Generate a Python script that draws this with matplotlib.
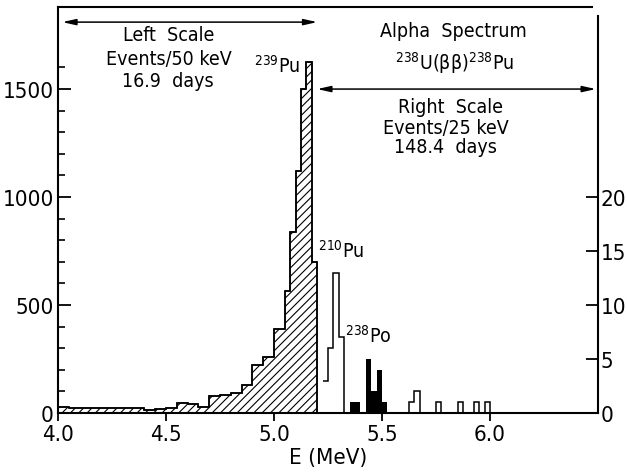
import matplotlib
matplotlib.use("Agg")
import matplotlib.pyplot as plt
from matplotlib.ticker import FixedLocator
from matplotlib import font_manager as fm

# ---------------- data ----------------
# left scale: events / 50 keV (hatched), bin edges in MeV
left_edges = [4.00, 4.05, 4.10, 4.15, 4.20, 4.25, 4.30, 4.35, 4.40, 4.45,
              4.50, 4.55, 4.60, 4.65, 4.70, 4.75, 4.80, 4.85, 4.90, 4.95,
              5.00, 5.05, 5.075, 5.10, 5.125, 5.15, 5.175, 5.20]
left_counts = [28, 22, 24, 24, 25, 25, 24, 22, 14, 18,
               22, 45, 40, 30, 78, 82, 92, 130, 220, 260,
               390, 565, 838, 1120, 1500, 1625, 700]

# right scale: events / 25 keV
po210_edges = [5.225, 5.25, 5.275, 5.30, 5.325, 5.35]
po210_counts = [3, 6, 13, 7, 0]

pu238_edges = [5.35, 5.375, 5.40, 5.425, 5.45, 5.475, 5.50, 5.525]
pu238_counts = [1, 1, 0, 5, 2, 4, 1]

high_edges = [5.625, 5.65, 5.675, 5.70, 5.725, 5.75, 5.775, 5.80, 5.825,
              5.85, 5.875, 5.90, 5.925, 5.95, 5.975, 6.00]
high_counts = [1, 2, 0, 0, 0, 1, 0, 0, 0, 1, 0, 0, 1, 0, 1]

x_ticks = [4.0, 4.5, 5.0, 5.5, 6.0]
x_ticklabels = ["4.0", "4.5", "5.0", "5.5", "6.0"]
left_ticks = [0, 500, 1000, 1500]
left_minor = [100, 200, 300, 400, 600, 700, 800, 900, 1100, 1200, 1300, 1400, 1600]
right_ticks = [0, 5, 10, 15, 20]

# ---------------- font choice (narrow lettering) ----------------
def _find(family, stretch):
    try:
        return fm.findfont(fm.FontProperties(family=family, stretch=stretch),
                           fallback_to_default=False)
    except Exception:
        return None

FAMILY, STRETCH, CONDENSED = "Liberation Sans", "normal", False
p = _find("Liberation Sans Narrow", "normal")
if p and "Narrow" in p:
    FAMILY, STRETCH, CONDENSED = "Liberation Sans Narrow", "normal", True
else:
    p = _find("DejaVu Sans", "condensed")
    if p and "Condensed" in p:
        FAMILY, STRETCH, CONDENSED = "DejaVu Sans", "condensed", True

plt.rcParams["font.family"] = [FAMILY, "DejaVu Sans"]
plt.rcParams["font.stretch"] = STRETCH
plt.rcParams["mathtext.fontset"] = "custom"
plt.rcParams["mathtext.rm"] = FAMILY
plt.rcParams["mathtext.it"] = FAMILY + ":italic"
plt.rcParams["mathtext.default"] = "regular"
plt.rcParams["hatch.linewidth"] = 0.8

TICK_FS = 16 if CONDENSED else 14.5
FS = 14 if CONDENSED else 13

W, H = 627, 477
fig = plt.figure(figsize=(W / 100, H / 100), dpi=100)
ax = fig.add_axes([58 / W, 1 - 414 / H, (598 - 58) / W, (414 - 8) / H])
ax2 = ax.twinx()

LMAX = 1880
RMAX = LMAX / 50
ax.set_xlim(4.0, 6.5)
ax.set_ylim(0, LMAX)
ax2.set_ylim(0, RMAX)

lw = 1.1
ax.stairs(left_counts, left_edges, fill=True, facecolor="white",
          edgecolor="black", hatch="////", linewidth=lw)
ax.stairs(left_counts, left_edges, fill=False, color="black", linewidth=lw,
          baseline=0)

ax2.stairs(po210_counts, po210_edges, baseline=None, color="black", linewidth=lw)
ax2.stairs(pu238_counts, pu238_edges, fill=True, color="black", linewidth=lw)
ax2.stairs(high_counts, high_edges, fill=False, color="black", linewidth=lw,
           baseline=0)

# axes frame: top line stops short of the right scale, right spine starts lower
for a in (ax, ax2):
    for s in a.spines.values():
        s.set_linewidth(1.5)
ax.spines["right"].set_visible(False)
ax2.spines["top"].set_visible(False)
ax2.spines["left"].set_visible(False)
ax2.spines["bottom"].set_visible(False)
ax.spines["top"].set_bounds(4.0, 6.47)
ax2.spines["right"].set_bounds(0, RMAX * (397 / 406))

ax.set_xticks(x_ticks)
ax.set_xticklabels(x_ticklabels)
ax.tick_params(axis="x", direction="out", length=6, width=1.3,
               labelsize=TICK_FS, pad=2)
ax.set_yticks(left_ticks)
ax.yaxis.set_minor_locator(FixedLocator(left_minor))
ax.tick_params(axis="y", which="major", direction="in", length=9, width=1.3,
               labelsize=TICK_FS, pad=3)
ax.tick_params(axis="y", which="minor", direction="in", length=5, width=1.2)
ax2.set_yticks(right_ticks)
ax2.tick_params(axis="y", which="major", direction="in", length=9, width=1.3,
                labelsize=TICK_FS, pad=2)
ax.set_xlabel("E (MeV)", fontsize=TICK_FS, labelpad=2)

# arrows
ap = dict(arrowstyle="<|-|>,head_length=0.8,head_width=0.18", color="black",
          lw=1.1, shrinkA=0, shrinkB=0)
ax.annotate("", xy=(4.02, 1810), xytext=(5.2, 1810), arrowprops=ap)
ax.annotate("", xy=(5.2, 1500), xytext=(6.49, 1500), arrowprops=ap)

# texts
ax.text(4.513, 1753, "Left  Scale", ha="center", va="center", fontsize=FS)
ax.text(4.513, 1643, "Events/50 keV", ha="center", va="center", fontsize=FS)
ax.text(4.508, 1541, "16.9  days", ha="center", va="center", fontsize=FS)
ax.text(5.12, 1610, r"$^{239}$Pu", ha="right", va="center", fontsize=FS)
ax.text(5.83, 1772, "Alpha  Spectrum", ha="center", va="center", fontsize=FS)
ax.text(5.835, 1624, r"$^{238}$U($\beta\beta$)$^{238}$Pu", ha="center",
        va="center", fontsize=FS)
ax.text(5.815, 1421, "Right  Scale", ha="center", va="center", fontsize=FS)
ax.text(5.796, 1324, "Events/25 keV", ha="center", va="center", fontsize=FS)
ax.text(5.796, 1232, "148.4  days", ha="center", va="center", fontsize=FS)
ax.text(5.205, 757, r"$^{210}$Pu", ha="left", va="center", fontsize=FS)
ax.text(5.33, 360, r"$^{238}$Po", ha="left", va="center", fontsize=FS)

fig.savefig("out.png", dpi=100)
